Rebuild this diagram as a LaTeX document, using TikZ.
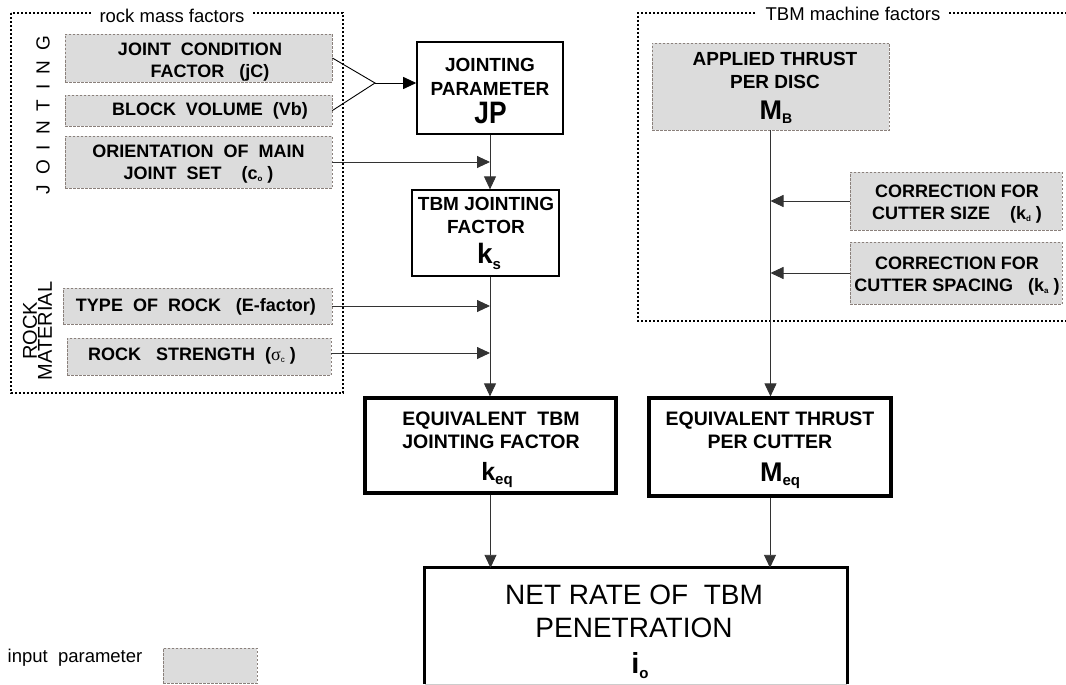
\documentclass[tikz,border=0pt]{standalone}
\usepackage{fontspec}
\setmainfont{Liberation Sans}
\newfontfamily\grk{Liberation Serif}
\usetikzlibrary{arrows.meta}
\definecolor{boxfill}{HTML}{DCDCDC}
\definecolor{boxline}{HTML}{8A807B}
\definecolor{connc}{HTML}{333333}
\newcommand\fsz[1]{\fontsize{#1}{#1}\selectfont}
\newcommand\lsub[3]{\raisebox{-#1}{\fontsize{#2}{#2}\selectfont #3}}
\begin{document}
\begin{tikzpicture}[x=1pt,y=-1pt,
  inbox/.style={draw=boxline, fill=boxfill, dash pattern=on 2.5pt off 1.5pt, line width=0.8pt, inner sep=0pt},
  mainbox/.style={draw=black, fill=white, line width=1.6pt, inner sep=0pt},
  bigbox/.style={mainbox, line width=3.2pt},
  txt/.style={inner sep=0pt, anchor=north, align=center, font=\bfseries\fontsize{18}{22}\selectfont},
  mtxt/.style={inner sep=0pt, anchor=north, align=center, font=\bfseries\fontsize{19}{23}\selectfont},
  sym/.style={inner sep=0pt, anchor=base, font=\bfseries},
  conn/.style={draw=connc, line width=0.9pt},
  arr/.style={-{Triangle[length=13pt,width=12pt]}},
  dotframe/.style={draw=black, line width=1.6pt, dash pattern=on 1.6pt off 2.4pt},
  framelabel/.style={fill=white, inner xsep=9pt, inner ysep=1pt, font=\fsz{18.5}},
]
\useasboundingbox (0,0) rectangle (1066,685);
\clip (0,0) rectangle (1066,685);

% dotted frames
\draw[dotframe] (11,13) rectangle (343,393);
\node[framelabel] (rmf) at (172,15.5) {rock mass factors};
\draw[dotframe] (1075,13) -- (638,13) -- (638,321) -- (1075,321);
\node[framelabel] (tmf) at (853,14) {TBM machine factors};

% side labels
\node[rotate=90, inner sep=0pt, font=\fsz{19}] (jtext) at (43,115)
  {J\hspace{10pt}O\hspace{10pt}I\hspace{10pt}N\hspace{10pt}T\hspace{10pt}I\hspace{10pt}N\hspace{10pt}G};
\node[rotate=90, inner sep=0pt, align=center, font=\fontsize{20}{15}\selectfont] (rmat) at (37.5,331)
  {ROCK\\MATERIAL};

% input parameter boxes
\node[inbox, minimum width=267pt, minimum height=48pt] (jc) at (198.5,58) {};
\node[txt] (jcT) at (200,43) {JOINT~~CONDITION\\\hspace*{20pt}FACTOR~~~(jC)};
\node[inbox, minimum width=267pt, minimum height=31pt] (vb) at (198.5,110.5) {};
\node[txt] (vbT) at (210,102) {BLOCK~~VOLUME~~(Vb)};
\node[inbox, minimum width=267pt, minimum height=52pt] (co) at (198.5,162) {};
\node[txt] (coT) at (198.5,145) {ORIENTATION~~OF~~MAIN\\JOINT~~SET~~~~(c\lsub{2pt}{8}{o}~)};
\node[inbox, minimum width=269pt, minimum height=36pt] (tr) at (197.5,306) {};
\node[txt] (trT) at (196,298) {TYPE~~OF~~ROCK~~~(E-factor)};
\node[inbox, minimum width=264pt, minimum height=37pt] (rs) at (199,356.5) {};
\node[txt] (rsT) at (192,347) {ROCK~~~STRENGTH~~({\grk\mdseries σ}\lsub{2pt}{8}{\mdseries c}~)};
\node[inbox, minimum width=237pt, minimum height=87pt] (mb) at (770.5,86.5) {};
\node[mtxt] (mbT) at (775,52) {APPLIED THRUST\\PER DISC};
\node[sym] (mbS) at (776,119) {{\fsz{27}M}\lsub{4pt}{14}{B}};
\node[inbox, minimum width=212pt, minimum height=58pt] (kd) at (956,201) {};
\node[txt] (kdT) at (957,185) {CORRECTION FOR\\CUTTER SIZE~~~~(k\lsub{2pt}{8}{d}~)};
\node[inbox, minimum width=212pt, minimum height=62pt] (ka) at (956,273) {};
\node[txt] (kaT) at (957,257) {CORRECTION FOR\\CUTTER SPACING~~~(k\lsub{2pt}{8}{a}~)};

% main boxes
\node[mainbox, minimum width=146pt, minimum height=92pt] (jp) at (490,88) {};
\node[mtxt, font=\bfseries\fontsize{19}{24}\selectfont] (jpT) at (490,58) {JOINTING\\PARAMETER};
\node[sym] (jpS) at (490.5,124) {\scalebox{0.85}[1]{\fsz{31}JP}};
\node[mainbox, line width=1.3pt, minimum width=147pt, minimum height=86pt] (ks) at (485.5,233) {};
\node[mtxt] (ksT) at (486,197) {TBM JOINTING\\FACTOR};
\node[sym] (ksS) at (489,263) {{\fsz{28}k}\lsub{6pt}{15}{s}};
\node[bigbox, minimum width=251pt, minimum height=95pt] (keq) at (490.5,445.5) {};
\node[mtxt, font=\bfseries\fontsize{19.5}{23}\selectfont] (keqT) at (491,412) {EQUIVALENT~~TBM\\JOINTING FACTOR};
\node[sym] (keqS) at (497,480) {{\fsz{25}k}\lsub{4pt}{15}{eq}};
\node[bigbox, minimum width=242pt, minimum height=98pt] (meq) at (770,447) {};
\node[mtxt, font=\bfseries\fontsize{19.5}{23}\selectfont] (meqT) at (770,412) {EQUIVALENT THRUST\\PER CUTTER};
\node[sym] (meqS) at (780,481) {{\fsz{27}M}\lsub{4pt}{15}{eq}};
\node[inner sep=0pt, minimum width=422pt, minimum height=116pt] (net) at (636,626) {};
\draw[line width=3.2pt] (net.south west) -- (net.north west) -- (net.north east) -- (net.south east);
\draw[line width=0.6pt, black!20] (net.south west) -- (net.south east);
\node[inner sep=0pt, anchor=north, align=center, font=\fontsize{28}{33}\selectfont] (netT) at (634,585)
  {NET RATE OF~~TBM\\PENETRATION};
\node[sym] (netS) at (640,673) {{\fsz{29}i}\lsub{5pt}{15}{o}};

% legend
\node[font=\fsz{18.5}, inner sep=0pt] (legt) at (75,658) {input~~parameter};
\node[inbox, minimum width=94pt, minimum height=35pt] (leg) at (210,665.5) {};

% connectors
\coordinate (mg) at (375,83);
\draw[line width=0.9pt] (jc.east) -- (mg) -- (vb.east);
\draw[line width=0.9pt, arr] (mg) -- (mg -| jp.west);
\draw[conn, arr] (jp.south) -- (jp.south |- ks.north);
\draw[conn, arr] (jp.south |- ks.south) -- (jp.south |- keq.north);
\draw[conn, arr] (co.east) -- (co.east -| jp.south);
\draw[conn, arr] (tr.east) -- (tr.east -| jp.south);
\draw[conn, arr] ([yshift=3.5pt]rs.east) -- ([yshift=3.5pt]rs.east -| jp.south);
\draw[conn, arr] (mb.south) -- (mb.south |- meq.north);
\draw[conn, arr] (kd.west) -- (kd.west -| mb.south);
\draw[conn, arr] (ka.west) -- (ka.west -| mb.south);
\draw[conn, arr] (keq.south) -- (keq.south |- net.north);
\draw[conn, arr] (meq.south) -- (meq.south |- net.north);
\end{tikzpicture}
\end{document}
